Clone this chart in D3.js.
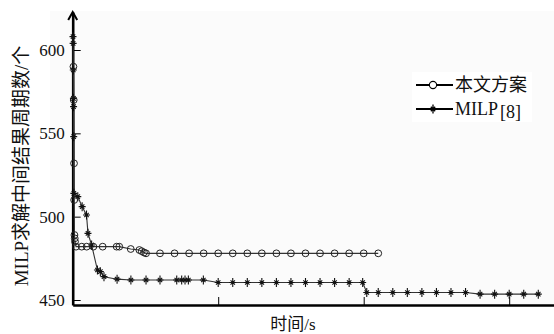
<!DOCTYPE html>
<html>
<head>
<meta charset="utf-8">
<script src="https://cdn.jsdelivr.net/npm/d3@7"></script>
<style>
  body { margin: 0; background: #fff; }
  svg { display: block; }
  text { font-family: "Liberation Serif", "Noto Sans CJK SC", serif; fill: #111; }
</style>
</head>
<body>
<script>
// 本文方案 (circles): time in s, cycles
const oursTime = [5, 7, 9, 10, 12, 14, 16, 23, 62, 96, 142, 206, 302, 320, 399, 458, 474, 490, 504,
  600, 700, 800, 900, 1000, 1100, 1200, 1300, 1400, 1500, 1600, 1700, 1800, 1900, 2000, 2100]
const oursValue = [590, 570, 532, 510, 489, 487, 485, 482, 482, 482, 482, 482, 482, 482, 480.6, 480, 479.3, 478.5, 478,
  478, 478, 478, 478, 478, 478, 478, 478, 478, 478, 478, 478, 478, 478, 478, 478]

// MILP[8] (stars)
const milpTime = [2, 3, 4, 5, 6, 7, 8, 35, 65, 95, 105, 130, 170, 190, 215, 305, 400, 504, 600, 715, 749, 772, 795, 898,
  1000, 1100, 1200, 1300, 1400, 1500, 1600, 1700, 1800, 1900, 1993, 2021,
  2100, 2200, 2300, 2400, 2500, 2600, 2700, 2800, 2900, 3000, 3100, 3200]
const milpValue = [608, 604, 588, 571, 566, 548, 514, 512, 506, 501, 490, 483, 468, 467, 464, 462.5, 462, 462, 462, 462, 462, 462, 462, 462,
  460.5, 460.5, 460.5, 460.5, 460.5, 460.5, 460.5, 460.5, 460.5, 460.5, 460.5, 454.5,
  454.5, 454.5, 454.5, 454.5, 454.5, 454.5, 454.5, 453.5, 453.5, 453.5, 453.5, 453.5]

const yTicks = [450, 500, 550, 600]
const xTicks = [1000, 2000, 3000]
const legendNames = ['本文方案', 'MILP']

const WIDTH = 554
const HEIGHT = 334

const svg = d3.select('body').append('svg').attr('width', WIDTH).attr('height', HEIGHT)

const x = d3.scaleLinear().domain([0, 3308]).range([72.7, 554])
const y = d3.scaleLinear().domain([447, 622.8]).range([305, 12])

// fond très légèrement gris de la zone de tracé
svg.append('rect').attr('x', 50).attr('y', 11).attr('width', 504).attr('height', 294).attr('fill', '#fbfbfb')

// axes
const gx = svg.append('g').attr('transform', 'translate(0,' + y(447) + ')')
  .call(d3.axisBottom(x).tickValues(xTicks).tickSizeInner(-8).tickSizeOuter(0).tickFormat(''))
gx.select('.domain').attr('stroke', '#000').attr('stroke-width', 2.6)
gx.selectAll('.tick line').attr('stroke', '#000').attr('stroke-width', 1)

const gy = svg.append('g').attr('transform', 'translate(' + x(0) + ',0)')
  .call(d3.axisLeft(y).tickValues(yTicks).tickSizeInner(-8).tickSizeOuter(0).tickPadding(8))
gy.select('.domain').attr('stroke', '#000').attr('stroke-width', 2.6)
gy.selectAll('.tick line').attr('stroke', '#000').attr('stroke-width', 1)
gy.selectAll('.tick text').attr('font-size', 17).attr('font-family', '"Liberation Serif", serif').attr('fill', '#111')

// flèche en haut de l'axe y
svg.append('path').attr('d', 'M' + (x(0) - 4.5) + ',' + (y(622.8) + 8) + 'L' + x(0) + ',' + y(622.8) + 'L' + (x(0) + 4.5) + ',' + (y(622.8) + 8))
  .attr('fill', 'none').attr('stroke', '#000').attr('stroke-width', 2)

// titres des axes
svg.append('text').attr('transform', 'translate(28,' + 166 + ') rotate(-90)')
  .attr('text-anchor', 'middle').attr('font-size', 19)
  .text('MILP求解中间结果周期数/个')
svg.append('text').attr('x', 293).attr('y', 330).attr('text-anchor', 'middle').attr('font-size', 17).text('时间/s')

// séries
const line = d3.line().x(d => x(d[0])).y(d => y(d[1]))
const ours = oursTime.map((t, i) => [t, oursValue[i]])
const milp = milpTime.map((t, i) => [t, milpValue[i]])

const starPath = 'M0,-4.5L0,4.5M-3.5,0L3.5,0M-2.2,-2.2L2.2,2.2M-2.2,2.2L2.2,-2.2'

svg.append('path').datum(milp).attr('d', line).attr('fill', 'none').attr('stroke', '#333').attr('stroke-width', 1.1)
svg.append('path').datum(ours).attr('d', line).attr('fill', 'none').attr('stroke', '#333').attr('stroke-width', 1.1)

svg.selectAll('.star').data(milp).enter().append('path')
  .attr('class', 'star')
  .attr('transform', d => 'translate(' + x(d[0]) + ',' + y(d[1]) + ')')
  .attr('d', starPath).attr('stroke', '#111').attr('stroke-width', 1.1).attr('fill', 'none')

svg.selectAll('.circ').data(ours).enter().append('circle')
  .attr('class', 'circ')
  .attr('cx', d => x(d[0])).attr('cy', d => y(d[1])).attr('r', 3.4)
  .attr('fill', 'none').attr('stroke', '#222').attr('stroke-width', 1)

// légende
const leg = svg.append('g')
leg.append('rect').attr('x', 412).attr('y', 72).attr('width', 120).attr('height', 50).attr('fill', '#fff')
const rows = [85, 109]
rows.forEach(function(ry, i) {
  leg.append('line').attr('x1', 416).attr('x2', 453).attr('y1', ry).attr('y2', ry).attr('stroke', '#000').attr('stroke-width', 2)
  if (i == 0) {
    leg.append('circle').attr('cx', 433).attr('cy', ry).attr('r', 3.6).attr('fill', '#fff').attr('stroke', '#000').attr('stroke-width', 1.1)
  } else {
    leg.append('path').attr('transform', 'translate(433,' + ry + ')').attr('d', starPath).attr('stroke', '#000').attr('stroke-width', 1.3)
  }
  const t = leg.append('text').attr('x', 455).attr('y', ry + 6).attr('font-size', 18).text(legendNames[i])
  if (i == 1) t.append('tspan').attr('dx', 2).attr('dy', 3).text('[8]')
})
</script>
</body>
</html>
